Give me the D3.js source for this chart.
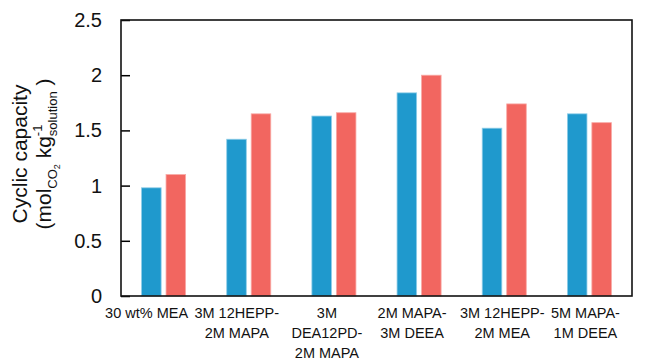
<!DOCTYPE html>
<html>
<head>
<meta charset="utf-8">
<script src="https://cdn.jsdelivr.net/npm/d3@7"></script>
<style>
  html, body { margin: 0; padding: 0; background: #fff; }
  svg { display: block; font-family: "Liberation Sans", Arial, sans-serif; }
</style>
</head>
<body>
<div id="chart"></div>
<script>
// ── data ──────────────────────────────────────────────────────────────────────
const categories = [
  ['30 wt% MEA'],
  ['3M 12HEPP-', '2M MAPA'],
  ['3M', 'DEA12PD-', '2M MAPA'],
  ['2M MAPA-', '3M DEEA'],
  ['3M 12HEPP-', '2M MEA'],
  ['5M MAPA-', '1M DEEA']
];
const seriesKeys = ['blue', 'red'];
const blueValues = [0.98, 1.42, 1.63, 1.84, 1.52, 1.65];
const redValues  = [1.10, 1.65, 1.66, 2.00, 1.74, 1.57];
const yTicks     = [0, 0.5, 1, 1.5, 2, 2.5];

// ── layout ────────────────────────────────────────────────────────────────────
const W = 666, H = 360;
const margin = { top: 20, right: 34, bottom: 64, left: 121 };
const width  = W - margin.left - margin.right;
const height = H - margin.top - margin.bottom;
const labelDx = [-17, -12, -7, -7, -2, -4]; // small nudges seen in the original

const colors  = { blue: '#1f99cd', red: '#f26660' };
const strokes = { blue: '#8fcde8', red: '#f8aaa6' };

const svg = d3.select('#chart').append('svg')
  .attr('width', W).attr('height', H);

const g = svg.append('g')
  .attr('transform', `translate(${margin.left},${margin.top})`);

const idx = categories.map((d, i) => i);

const x0 = d3.scaleBand().domain(idx).range([0, width]).padding(0);
const x1 = d3.scaleBand().domain(seriesKeys).range([0, x0.bandwidth()])
  .paddingInner(0.2).paddingOuter(0.84);
const y  = d3.scaleLinear().domain([0, 2.5]).range([height, 0]);

const rows = idx.map(i => ({ i, blue: blueValues[i], red: redValues[i] }));

// ── bars ──────────────────────────────────────────────────────────────────────
g.append('g').selectAll('g')
  .data(rows)
  .join('g')
    .attr('transform', d => `translate(${x0(d.i)},0)`)
  .selectAll('rect')
  .data(d => seriesKeys.map(k => ({ k, v: d[k] })))
  .join('rect')
    .attr('x', d => x1(d.k))
    .attr('width', x1.bandwidth())
    .attr('y', d => y(d.v))
    .attr('height', d => y(0) - y(d.v))
    .attr('fill', d => colors[d.k])
    .attr('stroke', d => strokes[d.k])
    .attr('stroke-width', 0.8);

// ── y axis (ticks pointing inward) ───────────────────────────────────────────
g.append('g')
  .call(d3.axisLeft(y).tickValues(yTicks).tickFormat(d3.format(''))
    .tickSizeInner(-9).tickSizeOuter(0).tickPadding(19))
  .call(a => a.select('.domain').remove())
  .call(a => a.selectAll('.tick line').attr('stroke', '#000').attr('stroke-width', 1.5))
  .call(a => a.selectAll('.tick text')
    .attr('font-size', 20).attr('fill', '#111')
    .attr('font-family', '"Liberation Sans", Arial, sans-serif'));

// frame
g.append('rect')
  .attr('width', width).attr('height', height)
  .attr('fill', 'none').attr('stroke', '#111').attr('stroke-width', 1.6);

// ── x labels ──────────────────────────────────────────────────────────────────
const xl = g.append('g')
  .attr('font-size', 14.5).attr('fill', '#111').attr('text-anchor', 'middle');

xl.selectAll('text')
  .data(idx)
  .join('text')
    .attr('transform', i => `translate(${x0(i) + x0.bandwidth() / 2 + labelDx[i]},${height + 22})`)
  .selectAll('tspan')
  .data(i => categories[i])
  .join('tspan')
    .attr('x', 0)
    .attr('dy', (d, j) => j === 0 ? 0 : 20)
    .text(d => d);

// ── y title ───────────────────────────────────────────────────────────────────
const yt = svg.append('g')
  .attr('transform', `translate(27,${margin.top + height / 2 - 4}) rotate(-90)`)
  .attr('fill', '#111');

yt.append('text')
  .attr('text-anchor', 'middle')
  .attr('font-size', 21)
  .text('Cyclic capacity');

const t2 = yt.append('text')
  .attr('y', 24)
  .attr('text-anchor', 'middle')
  .attr('font-size', 21);

t2.append('tspan').text('(mol');
t2.append('tspan').attr('font-size', 13).attr('dy', 6).text('CO');
t2.append('tspan').attr('font-size', 9).attr('dy', 3).text('2');
t2.append('tspan').attr('dy', -9).text(' kg');
const sup = t2.append('tspan').attr('font-size', 13).attr('dy', -9).text('-1');
const supW = sup.node().getComputedTextLength();
t2.append('tspan').attr('font-size', 13).attr('dx', -supW).attr('dy', 15).text('solution');
t2.append('tspan').attr('dy', -6).text(' )');
</script>
</body>
</html>
